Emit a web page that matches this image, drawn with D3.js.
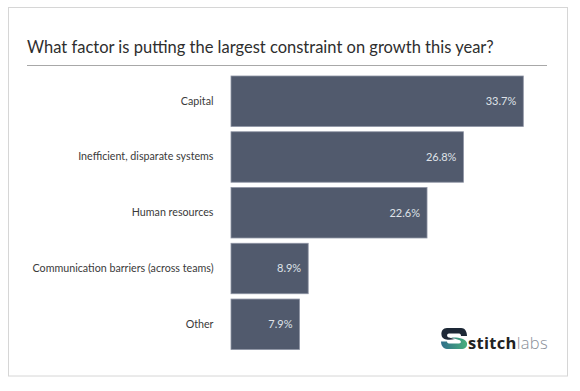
<!DOCTYPE html>
<html><head><meta charset="utf-8">
<script src="https://cdn.jsdelivr.net/npm/d3@7"></script>
<style>body{margin:0;background:#fff}svg{display:block}</style>
</head><body>
<script>
const title = "What factor is putting the largest constraint on growth this year?";
const categories = ["Capital","Inefficient, disparate systems","Human resources","Communication barriers (across teams)","Other"];
const values = [33.7, 26.8, 22.6, 8.9, 7.9];
const valueLabels = ["33.7%","26.8%","22.6%","8.9%","7.9%"];

const W = 580, H = 391;
const svg = d3.select("body").append("svg").attr("width", W).attr("height", H);
const font = "Lato, 'Open Sans', sans-serif";

svg.append("rect").attr("x", 8.5).attr("y", 7.5).attr("width", 559).attr("height", 368.5)
  .attr("fill", "#fff").attr("stroke", "#d6d6d6");

svg.append("text").attr("x", 27).attr("y", 53).text(title)
  .attr("font-family", font).attr("font-size", 16.5).attr("fill", "#2e2e2e");
svg.append("line").attr("x1", 27).attr("x2", 547).attr("y1", 65.5).attr("y2", 65.5)
  .attr("stroke", "#a8a8a8").attr("stroke-width", 1);

const x = d3.scaleLinear().domain([0, 33.7]).range([231, 523.3]);
const y = d3.scaleBand().domain(categories).range([76, 349.5]).paddingInner(0.095).paddingOuter(0);

const g = svg.append("g");
g.selectAll("rect.bar").data(values).join("rect").attr("class", "bar")
  .attr("x", x(0)).attr("y", (d, i) => y(categories[i]))
  .attr("width", d => x(d) - x(0)).attr("height", y.bandwidth())
  .attr("fill", "#515a6d").attr("stroke", "#8d93a3").attr("stroke-width", 0.8);

g.selectAll("text.val").data(values).join("text").attr("class", "val")
  .attr("x", d => x(d) - 7).attr("y", (d, i) => y(categories[i]) + y.bandwidth() / 2)
  .attr("dy", "0.35em").attr("text-anchor", "end")
  .attr("font-family", font).attr("font-size", 11).attr("fill", "#dfe2e8")
  .text((d, i) => valueLabels[i]);

const yAxis = d3.axisLeft(y).tickSize(0).tickPadding(0);
const ax = svg.append("g").attr("transform", "translate(213.5,0)").call(yAxis);
ax.select(".domain").remove();
ax.selectAll("text").attr("font-family", font).attr("font-size", 10.7).attr("fill", "#3a3a3a");

// stitchlabs logo
const logo = svg.append("g").attr("transform", "translate(441,328)");
const defs = svg.append("defs");
const grad = defs.append("linearGradient").attr("id", "lg").attr("x1", 0).attr("y1", 0).attr("x2", 1).attr("y2", 0);
grad.append("stop").attr("offset", "0%").attr("stop-color", "#2f6e8a");
grad.append("stop").attr("offset", "100%").attr("stop-color", "#49b07c");
// dark top loop
logo.append("path").attr("d", "M6,0 H20 C25,0 26,5 26,8 H20 C20,6 19,5.5 17,5.5 H8 C5.5,5.5 5.5,9 8,9.5 L14,11 C8,12.5 1,12 0.5,7 C0,3 2,0 6,0 Z").attr("fill", "#1d2836");
// green bottom loop
logo.append("path").attr("d", "M10,9.5 C16,9 25,10 26,15 C26.5,19 24,21 20,21 H6 C2,21 0,17 0,13.5 H6 C6,15 7,15.5 9,15.5 H18 C20.5,15.5 20.5,12.5 18,12 Z").attr("fill", "url(#lg)");
const lt = logo.append("text").attr("x", 27).attr("y", 20.5).attr("font-family", "'Open Sans', sans-serif").attr("font-size", 16.5).attr("letter-spacing", 0.3);
lt.append("tspan").text("stitch").attr("font-weight", 700).attr("fill", "#222");
lt.append("tspan").text("labs").attr("font-weight", 300).attr("fill", "#8a8f99");
</script>
</body></html>
